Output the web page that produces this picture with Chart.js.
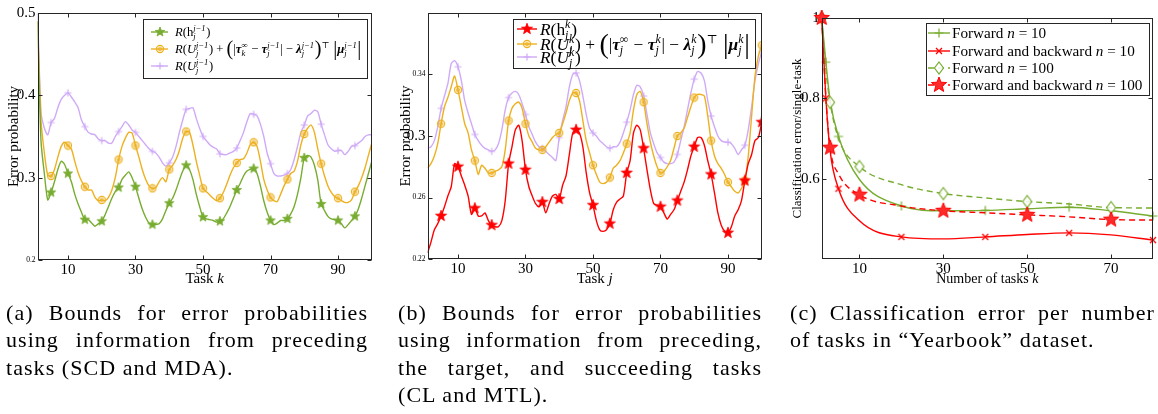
<!DOCTYPE html>
<html>
<head>
<meta charset="utf-8">
<script src="https://cdn.jsdelivr.net/npm/chart.js@4.4.1/dist/chart.umd.min.js"></script>
<style>
  body { margin: 0; background: #fff; width: 1158px; height: 414px; position: relative; overflow: hidden; }
  canvas { position: absolute; top: 0; }
  .cap { position: absolute; top: 299px; font-family: 'Liberation Serif', 'DejaVu Serif', serif; font-size: 22px; line-height: 27.3px; color: #000; letter-spacing: 1.05px; }
  .cap div { text-align: justify; text-align-last: justify; white-space: nowrap; }
  .cap div.last { text-align-last: left; }
</style>
</head>
<body>
<canvas id="chart-a" width="380" height="300" style="left:0px"></canvas>
<canvas id="chart-b" width="385" height="300" style="left:385px"></canvas>
<canvas id="chart-c" width="383" height="300" style="left:775px"></canvas>

<div class="cap" style="left:6px;width:362px">
  <div>(a) Bounds for error probabilities</div>
  <div>using information from preceding</div>
  <div class="last">tasks (SCD and MDA).</div>
</div>
<div class="cap" style="left:398px;width:364px">
  <div>(b) Bounds for error probabilities</div>
  <div>using information from preceding,</div>
  <div>the target, and succeeding tasks</div>
  <div class="last">(CL and MTL).</div>
</div>
<div class="cap" style="left:790px;width:365px">
  <div>(c) Classification error per number</div>
  <div class="last">of tasks in “Yearbook” dataset.</div>
</div>

<script>
// ─── DATA ─────────────────────────────────────────────────────────────────────

const tasks = Array.from({ length: 100 }, (_, i) => i + 1);

// (a) preceding tasks only
const aHyp = [
  0.490, 0.345, 0.305, 0.273, 0.282, 0.295, 0.310, 0.320, 0.316, 0.305,
  0.295, 0.280, 0.268, 0.258, 0.249, 0.249, 0.245, 0.241, 0.244, 0.247,
  0.255, 0.265, 0.275, 0.283, 0.288, 0.298, 0.303, 0.307, 0.300, 0.289,
  0.275, 0.262, 0.252, 0.245, 0.243, 0.243, 0.244, 0.250, 0.260, 0.269,
  0.275, 0.285, 0.297, 0.308, 0.315, 0.310, 0.298, 0.280, 0.265, 0.252,
  0.250, 0.249, 0.248, 0.246, 0.247, 0.250, 0.257, 0.265, 0.275, 0.285,
  0.293, 0.302, 0.308, 0.310, 0.311, 0.305, 0.290, 0.272, 0.258, 0.248,
  0.243, 0.245, 0.248, 0.248, 0.250, 0.256, 0.265, 0.280, 0.300, 0.324,
  0.327, 0.325, 0.315, 0.297, 0.268, 0.260, 0.253, 0.250, 0.249, 0.248,
  0.244, 0.239, 0.243, 0.248, 0.253, 0.262, 0.275, 0.290, 0.305, 0.320,
];
const aBound = [
  0.490, 0.370, 0.330, 0.303, 0.302, 0.310, 0.325, 0.338, 0.343, 0.339,
  0.335, 0.320, 0.306, 0.296, 0.289, 0.285, 0.285, 0.276, 0.272, 0.273,
  0.272, 0.276, 0.285, 0.300, 0.322, 0.338, 0.348, 0.355, 0.354, 0.339,
  0.325, 0.310, 0.298, 0.290, 0.287, 0.288, 0.295, 0.300, 0.295, 0.310,
  0.315, 0.322, 0.333, 0.348, 0.356, 0.355, 0.340, 0.320, 0.303, 0.287,
  0.283, 0.279, 0.275, 0.272, 0.275, 0.282, 0.292, 0.303, 0.312, 0.318,
  0.322, 0.323, 0.330, 0.340, 0.343, 0.338, 0.320, 0.298, 0.285, 0.276,
  0.272, 0.271, 0.280, 0.290, 0.298, 0.305, 0.308, 0.320, 0.340, 0.353,
  0.360, 0.364, 0.355, 0.335, 0.317, 0.302, 0.290, 0.282, 0.277, 0.275,
  0.272, 0.270, 0.270, 0.273, 0.283, 0.290, 0.300, 0.312, 0.327, 0.342,
];
const aUnion = [
  0.500, 0.380, 0.360, 0.352, 0.367, 0.372, 0.385, 0.395, 0.400, 0.403,
  0.398, 0.392, 0.385, 0.370, 0.362, 0.355, 0.353, 0.352, 0.347, 0.345,
  0.345, 0.342, 0.342, 0.350, 0.356, 0.362, 0.368, 0.364, 0.358, 0.355,
  0.350, 0.345, 0.340, 0.335, 0.332, 0.330, 0.325, 0.318, 0.314, 0.318,
  0.325, 0.338, 0.355, 0.370, 0.383, 0.384, 0.385, 0.372, 0.360, 0.350,
  0.345, 0.340, 0.337, 0.335, 0.329, 0.328, 0.328, 0.330, 0.332, 0.336,
  0.345, 0.355, 0.368, 0.378, 0.377, 0.375, 0.365, 0.350, 0.330, 0.317,
  0.305, 0.302, 0.302, 0.303, 0.305, 0.310, 0.322, 0.338, 0.355, 0.364,
  0.375, 0.378, 0.382, 0.380, 0.365, 0.352, 0.340, 0.335, 0.332, 0.333,
  0.333, 0.328, 0.332, 0.338, 0.339, 0.342, 0.345, 0.350, 0.352, 0.352,
];

// (b) preceding, target and succeeding tasks
const bHyp = [
  0.224, 0.231, 0.239, 0.243, 0.248, 0.254, 0.261, 0.267, 0.282, 0.280,
  0.274, 0.268, 0.261, 0.249, 0.253, 0.248, 0.248, 0.250, 0.245, 0.242,
  0.241, 0.241, 0.245, 0.258, 0.282, 0.293, 0.304, 0.307, 0.297, 0.278,
  0.267, 0.261, 0.256, 0.254, 0.257, 0.250, 0.256, 0.261, 0.262, 0.259,
  0.268, 0.274, 0.288, 0.302, 0.304, 0.302, 0.293, 0.276, 0.263, 0.255,
  0.245, 0.239, 0.238, 0.239, 0.243, 0.252, 0.257, 0.259, 0.261, 0.276,
  0.284, 0.302, 0.307, 0.304, 0.292, 0.278, 0.265, 0.256, 0.255, 0.254,
  0.250, 0.246, 0.249, 0.252, 0.258, 0.264, 0.270, 0.278, 0.287, 0.293,
  0.299, 0.299, 0.294, 0.284, 0.275, 0.263, 0.250, 0.242, 0.238, 0.237,
  0.241, 0.248, 0.252, 0.258, 0.271, 0.282, 0.288, 0.297, 0.299, 0.309,
];
const bBound = [
  0.279, 0.282, 0.287, 0.295, 0.308, 0.319, 0.325, 0.332, 0.339, 0.330,
  0.319, 0.308, 0.302, 0.291, 0.284, 0.275, 0.281, 0.279, 0.276, 0.276,
  0.277, 0.278, 0.280, 0.291, 0.310, 0.318, 0.321, 0.322, 0.318, 0.308,
  0.300, 0.296, 0.292, 0.291, 0.291, 0.293, 0.296, 0.299, 0.301, 0.302,
  0.308, 0.315, 0.323, 0.328, 0.328, 0.323, 0.310, 0.297, 0.289, 0.281,
  0.275, 0.270, 0.269, 0.270, 0.273, 0.279, 0.281, 0.284, 0.289, 0.295,
  0.302, 0.317, 0.327, 0.329, 0.322, 0.308, 0.296, 0.287, 0.280, 0.276,
  0.277, 0.280, 0.284, 0.292, 0.300, 0.302, 0.305, 0.312, 0.319, 0.325,
  0.327, 0.327, 0.326, 0.313, 0.297, 0.287, 0.282, 0.279, 0.275, 0.270,
  0.267, 0.264, 0.263, 0.266, 0.271, 0.287, 0.313, 0.339, 0.352, 0.359,
];
const bUnion = [
  0.292, 0.293, 0.297, 0.306, 0.318, 0.326, 0.334, 0.347, 0.349, 0.345,
  0.336, 0.323, 0.315, 0.308, 0.301, 0.297, 0.294, 0.292, 0.291, 0.290,
  0.291, 0.295, 0.304, 0.317, 0.325, 0.328, 0.329, 0.327, 0.321, 0.314,
  0.306, 0.301, 0.296, 0.293, 0.292, 0.290, 0.288, 0.286, 0.284, 0.299,
  0.310, 0.319, 0.332, 0.340, 0.341, 0.336, 0.326, 0.314, 0.305, 0.302,
  0.300, 0.297, 0.295, 0.293, 0.292, 0.293, 0.293, 0.296, 0.302, 0.309,
  0.317, 0.327, 0.333, 0.332, 0.326, 0.314, 0.302, 0.295, 0.289, 0.286,
  0.283, 0.282, 0.282, 0.283, 0.288, 0.297, 0.306, 0.317, 0.328, 0.337,
  0.342, 0.341, 0.336, 0.323, 0.313, 0.306, 0.300, 0.297, 0.296, 0.296,
  0.295, 0.292, 0.288, 0.291, 0.294, 0.304, 0.319, 0.336, 0.347, 0.355,
];

// (c) Yearbook dataset
const cTasks = [1, 2, 3, 5, 10, 20, 30, 40, 50, 60, 70, 80];
const cFwd10    = [1.0, 0.890, 0.795, 0.705, 0.598, 0.532, 0.520, 0.521, 0.525, 0.529, 0.520, 0.507];
const cFwdBwd10 = [1.0, 0.800, 0.670, 0.575, 0.495, 0.455, 0.450, 0.455, 0.461, 0.465, 0.460, 0.447];
const cFwd100   = [1.0, 0.870, 0.790, 0.700, 0.630, 0.585, 0.563, 0.552, 0.543, 0.537, 0.528, 0.527];
const cFwdBwd100 = [1.0, 0.800, 0.677, 0.612, 0.560, 0.532, 0.520, 0.515, 0.510, 0.505, 0.498, 0.497];

const abXTicks = [10, 30, 50, 70, 90];
const aYTicks = [0.2, 0.3, 0.4, 0.5];
const bYTicks = [0.22, 0.26, 0.3, 0.34];
const cXTicks = [10, 30, 50, 70];
const cYTicks = [0.6, 0.8, 1];

// ─── STYLE ────────────────────────────────────────────────────────────────────

const GREEN = '#77AC30', ORANGE = '#EDB120', PURPLE = '#cfaaf7', RED = '#ff0000';
const SERIF = "'Liberation Serif','DejaVu Serif',serif";
const fnt = (f, s) => (f === 'bi' ? 'italic bold ' : f === 'i' ? 'italic ' : '') + s + 'px ' + SERIF;

// rich text: plain / italic / bold-italic runs plus stacked sub/superscripts
function rich(ctx, parts, x, y, size, draw) {
  let cx = x;
  for (const p of parts) {
    if (p.sup !== undefined || p.sub !== undefined) {
      const s = size * 0.68;
      ctx.font = fnt('i', s);
      const w1 = p.sup ? ctx.measureText(p.sup).width : 0;
      const w2 = p.sub ? ctx.measureText(p.sub).width : 0;
      if (draw) {
        if (p.sup) ctx.fillText(p.sup, cx, y - size * 0.4);
        if (p.sub) ctx.fillText(p.sub, cx, y + size * 0.25);
      }
      cx += Math.max(w1, w2) + size * 0.05;
    } else {
      const sc = p.s || 1;
      ctx.font = fnt(p.f || '', size * sc);
      if (draw) ctx.fillText(p.t, cx, y + (sc - 1) * 0.28 * size);
      cx += ctx.measureText(p.t).width;
    }
  }
  return cx - x;
}

function marker(w, paint) {
  const c = document.createElement('canvas');
  c.width = c.height = w;
  paint(c.getContext('2d'), w / 2);
  return c;
}
function starPath(g, c, R, r) {
  g.beginPath();
  for (let i = 0; i < 10; i++) {
    const a = -Math.PI / 2 + i * Math.PI / 5, rad = i % 2 ? r : R;
    g.lineTo(c + rad * Math.cos(a), c + rad * Math.sin(a));
  }
  g.closePath();
}
const mStarGreen = marker(12, (g, c) => { starPath(g, c, 5, 2.1); g.fillStyle = GREEN; g.fill(); g.strokeStyle = GREEN; g.lineWidth = 0.8; g.stroke(); });
const mRing = marker(10, (g, c) => {
  g.strokeStyle = ORANGE; g.lineWidth = 1.1;
  g.beginPath(); g.arc(c, c, 3.6, 0, Math.PI * 2); g.fillStyle = 'rgba(237,177,32,0.25)'; g.fill(); g.stroke();
  g.beginPath(); g.arc(c, c, 1.3, 0, Math.PI * 2); g.stroke();
});
const mPlusPurple = marker(10, (g, c) => {
  g.strokeStyle = PURPLE; g.lineWidth = 1.2; g.beginPath();
  g.moveTo(c - 3.5, c); g.lineTo(c + 3.5, c); g.moveTo(c, c - 3.5); g.lineTo(c, c + 3.5); g.stroke();
});
const mStarRed = marker(14, (g, c) => { starPath(g, c, 5.8, 2.4); g.fillStyle = RED; g.fill(); g.strokeStyle = RED; g.lineWidth = 0.8; g.stroke(); });
const mPlusGreen = marker(12, (g, c) => {
  g.strokeStyle = GREEN; g.lineWidth = 1.2; g.beginPath();
  g.moveTo(c - 4.5, c); g.lineTo(c + 4.5, c); g.moveTo(c, c - 4.5); g.lineTo(c, c + 4.5); g.stroke();
});
const mCrossRed = marker(10, (g, c) => {
  g.strokeStyle = RED; g.lineWidth = 1.3; g.beginPath();
  g.moveTo(c - 3, c - 3); g.lineTo(c + 3, c + 3); g.moveTo(c + 3, c - 3); g.lineTo(c - 3, c + 3); g.stroke();
});
const mDiamond = marker(16, (g, c) => {
  g.beginPath(); g.moveTo(c, c - 6); g.lineTo(c + 4.5, c); g.lineTo(c, c + 6); g.lineTo(c - 4.5, c); g.closePath();
  g.fillStyle = 'rgba(255,255,255,0.85)'; g.fill(); g.strokeStyle = GREEN; g.lineWidth = 1.2; g.stroke();
});
const mStarBig = marker(20, (g, c) => { starPath(g, c, 8, 3.4); g.fillStyle = '#ff2a2a'; g.fill(); g.strokeStyle = RED; g.lineWidth = 1; g.stroke(); });

// ─── MATH LABELS ──────────────────────────────────────────────────────────────

const scr = (sup, sub) => ({ sup, sub });
const R_ = { t: 'R', f: 'i' };
const legA = [
  [R_, { t: '(h' }, scr('j−1', 'j'), { t: ')' }],
  [R_, { t: '(' }, { t: 'U', f: 'i' }, scr('j−1', 'j'), { t: ') + ' }, { t: '(', s: 1.6 }, { t: '|' },
    { t: 'τ', f: 'bi' }, scr('∞', 'k'), { t: ' − ' }, { t: 'τ', f: 'bi' }, scr('j−1', 'j'), { t: '| − ' },
    { t: 'λ', f: 'bi' }, scr('j−1', 'j'), { t: ')', s: 1.6 }, scr('⊤'), { t: ' ' }, { t: '|', s: 1.6 },
    { t: 'μ', f: 'bi' }, scr('j−1', 'j'), { t: '|', s: 1.6 }],
  [R_, { t: '(' }, { t: 'U', f: 'i' }, scr('j−1', 'j'), { t: ')' }],
];
const legB = [
  [R_, { t: '(h' }, scr('k', 'j'), { t: ')' }],
  [R_, { t: '(' }, { t: 'U', f: 'i' }, scr('k', 'j'), { t: ') + ' }, { t: '(', s: 1.6 }, { t: '|' },
    { t: 'τ', f: 'bi' }, scr('∞', 'j'), { t: ' − ' }, { t: 'τ', f: 'bi' }, scr('k', 'j'), { t: '| − ' },
    { t: 'λ', f: 'bi' }, scr('k', 'j'), { t: ')', s: 1.6 }, scr('⊤'), { t: ' ' }, { t: '|', s: 1.6 },
    { t: 'μ', f: 'bi' }, scr('k', 'j'), { t: '|', s: 1.6 }],
  [R_, { t: '(' }, { t: 'U', f: 'i' }, scr('k', 'j'), { t: ')' }],
];
const legC = [
  [{ t: 'Forward ' }, { t: 'n', f: 'i' }, { t: ' = 10' }],
  [{ t: 'Forward and backward ' }, { t: 'n', f: 'i' }, { t: ' = 10' }],
  [{ t: 'Forward ' }, { t: 'n', f: 'i' }, { t: ' = 100' }],
  [{ t: 'Forward and backward ' }, { t: 'n', f: 'i' }, { t: ' = 100' }],
];

// ─── PAPER-STYLE FRAME / TITLES / LEGEND ──────────────────────────────────────

function paperPlugin(cfg) {
  return {
    id: 'paper',
    afterDraw(chart) {
      const { ctx, chartArea: { left, right, top, bottom }, scales: { x, y } } = chart;
      ctx.save();
      ctx.strokeStyle = '#262626'; ctx.lineWidth = 1;
      const L = Math.round(left) + 0.5, Rr = Math.round(right) - 0.5, T = Math.round(top) + 0.5, B = Math.round(bottom) - 0.5;
      ctx.strokeRect(L, T, Rr - L, B - T);
      ctx.beginPath();
      cfg.xTicks.forEach(v => {
        const p = Math.round(x.getPixelForValue(v)) + 0.5;
        ctx.moveTo(p, B); ctx.lineTo(p, B - 4); ctx.moveTo(p, T); ctx.lineTo(p, T + 4);
      });
      cfg.yTicks.forEach(v => {
        const p = Math.round(y.getPixelForValue(v)) + 0.5;
        ctx.moveTo(L, p); ctx.lineTo(L + 4, p); ctx.moveTo(Rr, p); ctx.lineTo(Rr - 4, p);
      });
      ctx.stroke();

      ctx.fillStyle = '#000'; ctx.textAlign = 'left'; ctx.textBaseline = 'alphabetic';
      const xt = cfg.xTitle, xw = rich(ctx, xt.parts, 0, 0, xt.size, false);
      rich(ctx, xt.parts, (left + right) / 2 - xw / 2, xt.y, xt.size, true);
      const yt = cfg.yTitle;
      ctx.save();
      ctx.translate(yt.x, (top + bottom) / 2);
      ctx.rotate(-Math.PI / 2);
      const yw = rich(ctx, yt.parts, 0, 0, yt.size, false);
      rich(ctx, yt.parts, -yw / 2, yt.size * 0.33, yt.size, true);
      ctx.restore();

      const lg = cfg.legend, [bx0, by0, bx1, by1] = lg.box;
      ctx.fillStyle = '#fff'; ctx.fillRect(bx0, by0, bx1 - bx0, by1 - by0);
      ctx.strokeStyle = '#262626'; ctx.lineWidth = 1;
      ctx.strokeRect(bx0 + 0.5, by0 + 0.5, bx1 - bx0, by1 - by0);
      lg.items.forEach(it => {
        ctx.strokeStyle = it.color; ctx.lineWidth = 1.4; ctx.setLineDash(it.dash || []);
        ctx.beginPath(); ctx.moveTo(lg.line[0], it.y); ctx.lineTo(lg.line[1], it.y); ctx.stroke();
        ctx.setLineDash([]);
        const m = it.marker;
        ctx.drawImage(m, Math.round((lg.line[0] + lg.line[1]) / 2 - m.width / 2), Math.round(it.y - m.height / 2));
        ctx.fillStyle = '#000';
        rich(ctx, it.parts, lg.textX, it.y + lg.size * 0.33, lg.size, true);
      });
      ctx.restore();
    },
  };
}

function axes(o) {
  return {
    x: {
      type: 'linear', min: o.xMin, max: o.xMax,
      afterBuildTicks: s => { s.ticks = o.xTicks.map(v => ({ value: v })); },
      afterFit: s => { s.height = o.xHeight; },
      grid: { display: false, drawTicks: false }, border: { display: false },
      ticks: { padding: 1, color: '#000', maxRotation: 0, autoSkip: false, font: { family: SERIF, size: 15 }, callback: v => String(v) },
    },
    y: {
      type: 'linear', min: o.yMin, max: o.yMax,
      afterBuildTicks: s => { s.ticks = o.yTicks.map(v => ({ value: v })); },
      afterFit: s => { s.width = o.yWidth; },
      grid: { display: false, drawTicks: false }, border: { display: false },
      ticks: {
        padding: 2, color: '#000', autoSkip: false, callback: v => String(v),
        font: c => ({ family: SERIF, size: o.small.includes(c.tick && c.tick.value) ? 7.5 : 15 }),
      },
    },
  };
}

const every5 = last => c => ((c.dataIndex + 1) % 5 === 0 && c.dataIndex + 1 <= last) ? 4 : 0;
const oddIdx = c => (c.dataIndex % 2 === 1 ? 4 : 0);
const evenIdx = c => (c.dataIndex % 2 === 0 ? 4 : 0);

const base = padding => ({
  responsive: false, animation: false, events: [],
  layout: { padding },
  plugins: { legend: { display: false }, tooltip: { enabled: false } },
  elements: { line: { borderWidth: 1.4, fill: false } },
});

// ── Chart (a): SCD and MDA bounds ─────────────────────────────────
new Chart(document.getElementById('chart-a'), {
  type: 'line',
  data: {
    labels: tasks,
    datasets: [
      { data: aHyp, borderColor: GREEN, pointStyle: mStarGreen, pointRadius: every5(95), tension: 0.25 },
      { data: aBound, borderColor: ORANGE, pointStyle: mRing, pointRadius: every5(95), tension: 0.25 },
      { data: aUnion, borderColor: PURPLE, pointStyle: mPlusPurple, pointRadius: every5(95), tension: 0.25 },
    ],
  },
  options: {
    ...base({ top: 13, right: 8.2, left: 0, bottom: 0 }),
    scales: axes({ xMin: 1, xMax: 100, yMin: 0.2, yMax: 0.5, xTicks: abXTicks, yTicks: aYTicks, small: [0.2], xHeight: 40, yWidth: 37.6 }),
  },
  plugins: [paperPlugin({
    xTicks: abXTicks, yTicks: aYTicks,
    xTitle: { parts: [{ t: 'Task ' }, { t: 'k', f: 'i' }], size: 15, y: 283 },
    yTitle: { parts: [{ t: 'Error probability' }], size: 15, x: 13 },
    legend: {
      box: [143, 19, 367, 78], line: [151, 168], textX: 175, size: 12.6,
      items: [
        { y: 32, color: GREEN, marker: mStarGreen, parts: legA[0] },
        { y: 49, color: ORANGE, marker: mRing, parts: legA[1] },
        { y: 66, color: PURPLE, marker: mPlusPurple, parts: legA[2] },
      ],
    },
  })],
});

// ── Chart (b): CL and MTL bounds ──────────────────────────────────
new Chart(document.getElementById('chart-b'), {
  type: 'line',
  data: {
    labels: tasks,
    datasets: [
      { data: bHyp, borderColor: RED, pointStyle: mStarRed, pointRadius: every5(100), tension: 0.25 },
      { data: bBound, borderColor: ORANGE, pointStyle: mRing, pointRadius: every5(100), tension: 0.25 },
      { data: bUnion, borderColor: PURPLE, pointStyle: mPlusPurple, pointRadius: every5(100), tension: 0.25 },
    ],
  },
  options: {
    ...base({ top: 13, right: 8.25, left: 0, bottom: 0 }),
    scales: axes({ xMin: 1, xMax: 100, yMin: 0.22, yMax: 0.38, xTicks: abXTicks, yTicks: bYTicks, small: [0.22, 0.26, 0.34], xHeight: 41, yWidth: 42.6 }),
  },
  plugins: [paperPlugin({
    xTicks: abXTicks, yTicks: bYTicks,
    xTitle: { parts: [{ t: 'Task ' }, { t: 'j', f: 'i' }], size: 15, y: 283 },
    yTitle: { parts: [{ t: 'Error probability' }], size: 15, x: 20 },
    legend: {
      box: [128, 19, 370, 68], line: [132, 152], textX: 155, size: 17.4,
      items: [
        { y: 29, color: RED, marker: mStarRed, parts: legB[0] },
        { y: 44, color: ORANGE, marker: mRing, parts: legB[1] },
        { y: 57, color: PURPLE, marker: mPlusPurple, parts: legB[2] },
      ],
    },
  })],
});

// ── Chart (c): Yearbook classification error ──────────────────────
new Chart(document.getElementById('chart-c'), {
  type: 'line',
  data: {
    labels: cTasks,
    datasets: [
      { data: cFwdBwd100, borderColor: RED, borderDash: [6, 4], pointStyle: mStarBig, pointRadius: evenIdx, cubicInterpolationMode: 'monotone', clip: false },
      { data: cFwd100, borderColor: GREEN, borderDash: [6, 4], pointStyle: mDiamond, pointRadius: evenIdx, cubicInterpolationMode: 'monotone', clip: false },
      { data: cFwdBwd10, borderColor: RED, pointStyle: mCrossRed, pointRadius: oddIdx, cubicInterpolationMode: 'monotone', clip: false },
      { data: cFwd10, borderColor: GREEN, pointStyle: mPlusGreen, pointRadius: oddIdx, cubicInterpolationMode: 'monotone', clip: false },
    ],
  },
  options: {
    ...base({ top: 18, right: 4.5, left: 0, bottom: 0 }),
    scales: axes({ xMin: 1, xMax: 80, yMin: 0.4, yMax: 1, xTicks: cXTicks, yTicks: cYTicks, small: [], xHeight: 41, yWidth: 46.7 }),
  },
  plugins: [paperPlugin({
    xTicks: cXTicks, yTicks: cYTicks,
    xTitle: { parts: [{ t: 'Number of tasks ' }, { t: 'k', f: 'i' }], size: 14, y: 283 },
    yTitle: { parts: [{ t: 'Classification error/single-task' }], size: 13, x: 22 },
    legend: {
      box: [151, 23, 374, 95], line: [153, 175], textX: 177, size: 15.2,
      items: [
        { y: 33, color: GREEN, marker: mPlusGreen, parts: legC[0] },
        { y: 51, color: RED, marker: mCrossRed, parts: legC[1] },
        { y: 68, color: GREEN, dash: [6, 4], marker: mDiamond, parts: legC[2] },
        { y: 85, color: RED, dash: [6, 4], marker: mStarBig, parts: legC[3] },
      ],
    },
  })],
});
</script>
</body>
</html>
